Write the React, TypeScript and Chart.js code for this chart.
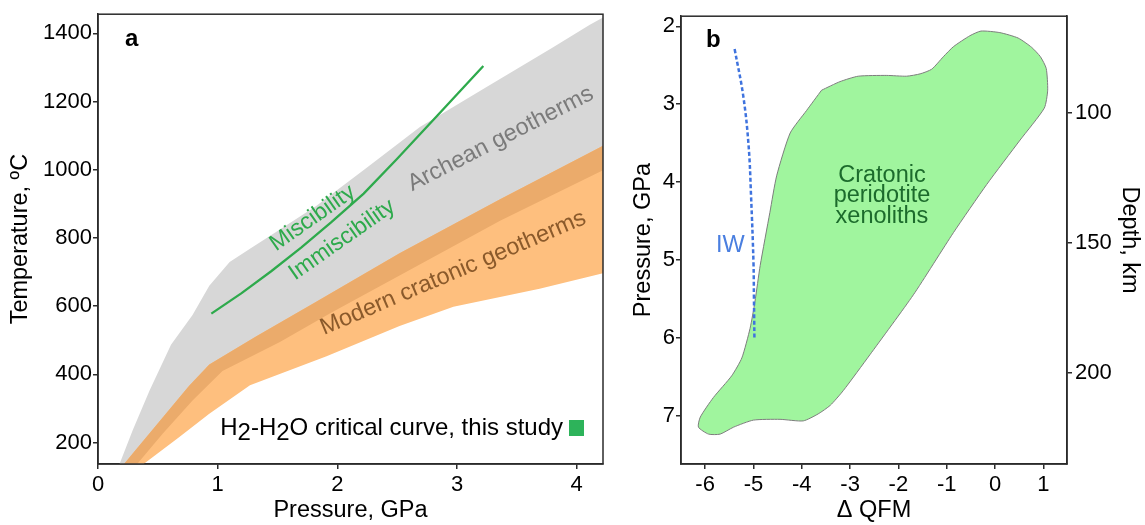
import React, { useEffect, useRef } from "react";
import { Chart, registerables } from "chart.js";

Chart.register(...registerables);

const FONT = "'Liberation Sans', Arial, Helvetica, sans-serif";

// ---------- Panel a : Pressure (GPa) vs Temperature (°C) ----------
const archeanHotP = [0.15, 0.29, 0.43, 0.61, 0.79, 0.93, 1.1, 1.27, 1.52, 1.82, 2.27, 2.69, 3.24, 3.8, 4.11, 4.23];
const archeanHotT = [110, 236, 352, 487, 574, 660, 729, 768, 825, 893, 1012, 1125, 1241, 1358, 1425, 1448];
const archeanColdP = [0.32, 0.54, 0.79, 1.04, 1.52, 1.94, 2.52, 3.36, 4.23];
const archeanColdT = [134, 226, 323, 410, 495, 579, 690, 850, 1000];
const cratonicHotP = [0.19, 0.29, 0.76, 0.93, 1.125, 1.32, 1.82, 2.52, 3.36, 4.23];
const cratonicHotT = [125, 168, 366, 429, 470, 511, 612, 755, 913, 1072];
const cratonicColdP = [0.37, 0.68, 0.93, 1.27, 1.91, 2.52, 2.97, 3.69, 4.23];
const cratonicColdT = [134, 216, 284, 368, 453, 542, 598, 651, 697];
const criticalP = [0.947, 1.2, 1.45, 1.7, 1.95, 2.22, 2.5, 2.85, 3.22];
const criticalT = [578, 638, 703, 772, 846, 930, 1032, 1164, 1304];

const aXTicks = [0, 1, 2, 3, 4];
const aYTicks = [200, 400, 600, 800, 1000, 1200, 1400];

// ---------- Panel b : ΔQFM vs Pressure (GPa) ----------
const xenolithQFM = [-3.59, -3.21, -2.83, -2.24, -1.83, -1.55, -1.31, -1.07, -0.86, -0.52, -0.29, 0.1, 0.48, 0.76, 0.94, 1.06, 1.09, 1.02, 0.52, -0.17, -0.86, -1.69, -2.59, -3.14, -3.41, -3.66, -3.97, -4.45, -5.0, -5.41, -5.69, -5.93, -6.14, -6.1, -5.83, -5.45, -5.24, -5.07, -4.97, -4.86, -4.66, -4.52, -4.24, -3.9, -3.59];
const xenolithP = [2.82, 2.71, 2.64, 2.63, 2.64, 2.61, 2.55, 2.39, 2.26, 2.12, 2.06, 2.08, 2.15, 2.27, 2.39, 2.54, 2.82, 3.05, 3.46, 4.03, 4.65, 5.45, 6.22, 6.68, 6.87, 6.98, 7.07, 7.05, 7.06, 7.15, 7.24, 7.24, 7.15, 7.02, 6.77, 6.49, 6.26, 5.88, 5.54, 5.07, 4.39, 3.92, 3.37, 3.08, 2.82];
const iwQFM = [-5.39, -5.21, -5.1, -5.05, -5.0, -4.99, -4.98];
const iwP = [2.29, 2.9, 3.54, 4.18, 5.03, 5.5, 6.03];

const bXTicks = [-6, -5, -4, -3, -2, -1, 0, 1];
const bYTicks = [2, 3, 4, 5, 6, 7];
const bDepthTicks = [100, 150, 200];

// ---------- colours ----------
const GREY = "#d7d7d7";
const DARK_OR = "#ebab6b";
const LIGHT_OR = "#febf7e";
const GREEN = "#2eaa4c";
const AXIS = "#2b2b2b";

const pts = (xs: number[], ys: number[]) => xs.map((x, i) => ({ x, y: ys[i] }));
const band = (uP: number[], uT: number[], lP: number[], lT: number[]) => [
  ...pts(uP, uT),
  ...pts(lP, lT).reverse(),
];

const tickFont = { family: FONT, size: 22 };
const titleFont = { family: FONT, size: 23.5 };

function axisBase() {
  return {
    type: "linear" as const,
    grid: { display: true, drawOnChartArea: false, drawTicks: true, tickLength: 5, color: AXIS, lineWidth: 1.5 },
    border: { display: true, color: AXIS, width: 1.5 },
  };
}

function setTicks(values: number[]) {
  return (s: any) => {
    s.ticks = values.map((v) => ({ value: v }));
  };
}

function rotText(ctx: CanvasRenderingContext2D, text: string, x: number, y: number, deg: number, color: string, size: number) {
  ctx.save();
  ctx.translate(x, y);
  ctx.rotate((deg * Math.PI) / 180);
  ctx.font = `${size}px ${FONT}`;
  ctx.fillStyle = color;
  ctx.textAlign = "center";
  ctx.textBaseline = "middle";
  ctx.fillText(text, 0, 0);
  ctx.restore();
}

const framePlugin = {
  id: "frame",
  afterDatasetsDraw(chart: any) {
    const { ctx, chartArea: ca } = chart;
    ctx.save();
    ctx.strokeStyle = AXIS;
    ctx.lineWidth = 1.5;
    ctx.strokeRect(ca.left, ca.top, ca.right - ca.left, ca.bottom - ca.top);
    ctx.restore();
  },
};

const labelsA = {
  id: "labelsA",
  afterDatasetsDraw(chart: any) {
    const { ctx, chartArea: ca } = chart;
    const x = chart.scales.x;
    const y = chart.scales.y;
    ctx.save();
    ctx.font = `bold 24px ${FONT}`;
    ctx.fillStyle = "#000";
    ctx.textAlign = "left";
    ctx.textBaseline = "alphabetic";
    ctx.fillText("a", ca.left + 27, ca.top + 32);

    rotText(ctx, "Miscibility", x.getPixelForValue(1.794), y.getPixelForValue(858), -35, GREEN, 23);
    rotText(ctx, "Immiscibility", x.getPixelForValue(2.04), y.getPixelForValue(794), -35, GREEN, 23);
    rotText(ctx, "Archean geotherms", x.getPixelForValue(3.364), y.getPixelForValue(1090), -27, "#7b7b7b", 23.5);
    rotText(ctx, "Modern cratonic geotherms", x.getPixelForValue(2.968), y.getPixelForValue(697), -23, "#8b5a2b", 23.5);

    // legend
    ctx.font = `24px ${FONT}`;
    ctx.fillStyle = "#000";
    ctx.textAlign = "left";
    ctx.textBaseline = "alphabetic";
    const parts: [string, number][] = [["H", 0], ["2", 5], ["-H", 0], ["2", 5], ["O critical curve, this study", 0]];
    const total = parts.reduce((s, [t]) => s + ctx.measureText(t).width, 0);
    let xx = ca.right - 40 - total;
    const baseY = ca.bottom - 29;
    for (const [t, dy] of parts) {
      ctx.fillText(t, xx, baseY + dy);
      xx += ctx.measureText(t).width;
    }
    ctx.fillStyle = "#2db35a";
    ctx.fillRect(ca.right - 34, ca.bottom - 44, 15, 16);
    ctx.restore();
  },
};

const labelsB = {
  id: "labelsB",
  afterDatasetsDraw(chart: any) {
    const { ctx, chartArea: ca } = chart;
    const x = chart.scales.x;
    const y = chart.scales.y;
    ctx.save();
    ctx.font = `bold 24px ${FONT}`;
    ctx.fillStyle = "#000";
    ctx.textAlign = "left";
    ctx.textBaseline = "alphabetic";
    ctx.fillText("b", ca.left + 25, ca.top + 31);

    ctx.font = `23.5px ${FONT}`;
    ctx.fillStyle = "#1c6b2c";
    ctx.textAlign = "center";
    const cx = x.getPixelForValue(-2.34);
    ctx.fillText("Cratonic", cx, y.getPixelForValue(4.0));
    ctx.fillText("peridotite", cx, y.getPixelForValue(4.26));
    ctx.fillText("xenoliths", cx, y.getPixelForValue(4.53));

    ctx.fillStyle = "#4a7fe0";
    ctx.textBaseline = "middle";
    ctx.fillText("IW", x.getPixelForValue(-5.48), y.getPixelForValue(4.81));
    ctx.restore();
  },
};

function cfgA(): any {
  return {
    type: "line",
    data: {
      datasets: [
        {
          label: "H2-H2O critical curve",
          data: pts(criticalP, criticalT),
          borderColor: GREEN,
          borderWidth: 2.3,
          pointRadius: 0,
          pointHoverRadius: 0,
          fill: false,
          tension: 0,
          order: 0,
        },
        {
          label: "overlap",
          data: band(cratonicHotP, cratonicHotT, archeanColdP, archeanColdT),
          backgroundColor: DARK_OR,
          borderColor: "transparent",
          borderWidth: 0,
          pointRadius: 0,
          pointHoverRadius: 0,
          fill: "shape",
          order: 1,
        },
        {
          label: "Modern cratonic geotherms",
          data: band(cratonicHotP, cratonicHotT, cratonicColdP, cratonicColdT),
          backgroundColor: LIGHT_OR,
          borderColor: "transparent",
          borderWidth: 0,
          pointRadius: 0,
          pointHoverRadius: 0,
          fill: "shape",
          order: 2,
        },
        {
          label: "Archean geotherms",
          data: band(archeanHotP, archeanHotT, archeanColdP, archeanColdT),
          backgroundColor: GREY,
          borderColor: "transparent",
          borderWidth: 0,
          pointRadius: 0,
          pointHoverRadius: 0,
          fill: "shape",
          order: 3,
        },
      ],
    },
    options: {
      animation: false,
      responsive: false,
      maintainAspectRatio: false,
      layout: { padding: { left: 0, right: 12, top: 10, bottom: 0 } },
      plugins: { legend: { display: false }, tooltip: { enabled: false } },
      scales: {
        x: {
          ...axisBase(),
          position: "bottom",
          min: 0,
          max: 4.22,
          afterBuildTicks: setTicks(aXTicks),
          afterFit: (s: any) => {
            s.height = 61;
          },
          ticks: { font: tickFont, color: "#000", padding: 3, maxRotation: 0, autoSkip: false, callback: (v: any) => String(v) },
          title: { display: true, text: "Pressure, GPa", font: titleFont, color: "#000", padding: { top: 0, bottom: 0 } },
        },
        y: {
          ...axisBase(),
          position: "left",
          min: 137,
          max: 1456,
          afterBuildTicks: setTicks(aYTicks),
          afterFit: (s: any) => {
            s.width = 98;
          },
          ticks: { font: tickFont, color: "#000", padding: 1, autoSkip: false, callback: (v: any) => String(v) },
          title: { display: true, text: "Temperature, ºC", font: titleFont, color: "#000", padding: { top: 6, bottom: 0 } },
        },
      },
    },
    plugins: [framePlugin, labelsA],
  };
}

function cfgB(): any {
  return {
    type: "line",
    data: {
      datasets: [
        {
          label: "IW",
          data: pts(iwQFM, iwP),
          borderColor: "#3f73de",
          borderWidth: 2.5,
          borderDash: [4, 2.5],
          pointRadius: 0,
          pointHoverRadius: 0,
          fill: false,
          tension: 0.4,
          order: 0,
        },
        {
          label: "Cratonic peridotite xenoliths",
          data: pts(xenolithQFM, xenolithP),
          backgroundColor: "#a0f59e",
          borderColor: "#7d7d7d",
          borderWidth: 1,
          pointRadius: 0,
          pointHoverRadius: 0,
          fill: "shape",
          tension: 0.2,
          order: 1,
        },
      ],
    },
    options: {
      animation: false,
      responsive: false,
      maintainAspectRatio: false,
      layout: { padding: { left: 0, right: 0, top: 12, bottom: 0 } },
      plugins: { legend: { display: false }, tooltip: { enabled: false } },
      scales: {
        x: {
          ...axisBase(),
          position: "bottom",
          min: -6.5,
          max: 1.49,
          afterBuildTicks: setTicks(bXTicks),
          afterFit: (s: any) => {
            s.height = 61;
          },
          ticks: { font: tickFont, color: "#000", padding: 3, maxRotation: 0, autoSkip: false, callback: (v: any) => String(v) },
          title: { display: true, text: "Δ QFM", font: titleFont, color: "#000", padding: { top: 0, bottom: 0 } },
        },
        y: {
          ...axisBase(),
          position: "left",
          reverse: true,
          min: 1.869,
          max: 7.624,
          afterBuildTicks: setTicks(bYTicks),
          afterFit: (s: any) => {
            s.width = 66;
          },
          ticks: { font: tickFont, color: "#000", padding: 1, autoSkip: false, callback: (v: any) => String(v) },
          title: { display: true, text: "Pressure, GPa", font: titleFont, color: "#000", padding: { top: 14, bottom: 0 } },
        },
        y2: {
          ...axisBase(),
          display: true,
          position: "right",
          reverse: true,
          min: 63.0,
          max: 234.9,
          afterBuildTicks: setTicks(bDepthTicks),
          afterFit: (s: any) => {
            s.width = 78;
          },
          ticks: { font: tickFont, color: "#000", padding: 3, autoSkip: false, callback: (v: any) => String(v) },
          title: { display: true, text: "Depth, km", font: titleFont, color: "#000", padding: { top: 1, bottom: 0 } },
        },
      },
    },
    plugins: [framePlugin, labelsB],
  };
}

export default function App() {
  const refA = useRef<HTMLCanvasElement>(null);
  const refB = useRef<HTMLCanvasElement>(null);
  useEffect(() => {
    const a = new Chart(refA.current as HTMLCanvasElement, cfgA());
    const b = new Chart(refB.current as HTMLCanvasElement, cfgB());
    return () => {
      a.destroy();
      b.destroy();
    };
  }, []);
  return (
    <div style={{ position: "fixed", left: 0, top: 0, width: 1145, height: 525, background: "#fff" }}>
      <canvas ref={refA} width={615} height={525} style={{ position: "absolute", left: 0, top: 0, width: 615, height: 525 }} />
      <canvas ref={refB} width={530} height={525} style={{ position: "absolute", left: 615, top: 0, width: 530, height: 525 }} />
    </div>
  );
}
